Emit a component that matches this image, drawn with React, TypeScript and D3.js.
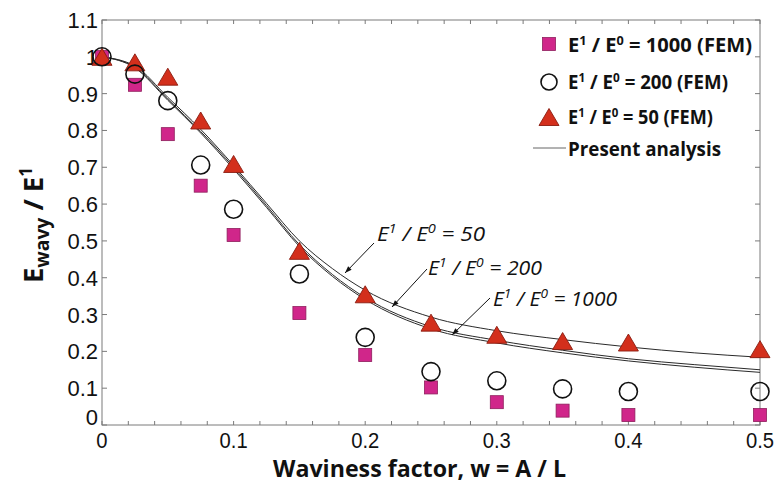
import React from 'react'
import * as d3 from 'd3'

// FEM results (markers)
const wFEM = [0, 0.025, 0.05, 0.075, 0.1, 0.15, 0.2, 0.25, 0.3, 0.35, 0.4, 0.5]
const fem1000 = [1.0, 0.924, 0.79, 0.65, 0.516, 0.304, 0.19, 0.102, 0.062, 0.039, 0.027, 0.027]
const fem200 = [1.0, 0.953, 0.881, 0.706, 0.586, 0.41, 0.238, 0.145, 0.12, 0.098, 0.091, 0.091]
const fem50 = [1.0, 0.985, 0.946, 0.827, 0.709, 0.473, 0.355, 0.278, 0.245, 0.228, 0.224, 0.206]

// present analysis (lines)
const wCurve = [0, 0.025, 0.05, 0.075, 0.1, 0.125, 0.15, 0.175, 0.2, 0.25, 0.3, 0.35, 0.4, 0.45, 0.5]
const curve50 = [1.0, 0.975, 0.89, 0.803, 0.705, 0.602, 0.5, 0.425, 0.366, 0.293, 0.256, 0.232, 0.212, 0.196, 0.184]
const curve200 = [1.0, 0.972, 0.885, 0.797, 0.7, 0.596, 0.49, 0.409, 0.346, 0.267, 0.23, 0.203, 0.18, 0.164, 0.15]
const curve1000 = [1.0, 0.97, 0.882, 0.793, 0.695, 0.591, 0.485, 0.404, 0.341, 0.261, 0.223, 0.196, 0.174, 0.157, 0.143]

const xTickLabels = [0, 0.1, 0.2, 0.3, 0.4, 0.5]
const yTickLabels = [0, 0.1, 0.2, 0.3, 0.4, 0.5, 0.6, 0.7, 0.8, 0.9, 1, 1.1]

const legendRatios = ['1000', '200', '50']

const annotations = [
  { ratio: '50', text: [377, 241], from: [374, 243], to: [345, 273], len: 108 },
  { ratio: '200', text: [428, 275], from: [427, 269], to: [392, 307], len: 114 },
  { ratio: '1000', text: [493, 306], from: [490, 298], to: [452, 335], len: 124 },
]

const W = 777
const H = 483
const margin = { top: 20, right: 17, bottom: 58, left: 102 }

const SQ_FILL = '#d0268a'
const SQ_STROKE = '#8e1f5c'
const TRI_FILL = '#d32f1c'
const TRI_STROKE = '#8a1c10'
const AXIS = '#7a7a7a'
const LABEL_FONT = '"Liberation Sans", Arial, sans-serif'
const TITLE_FONT = '"Open Sans", "Noto Sans", sans-serif'

function triPath(cx: number, cy: number, s = 10) {
  const h = s * 1.7
  return `M${cx},${cy - h / 2}L${cx + s},${cy + h / 2}L${cx - s},${cy + h / 2}Z`
}

export default function App() {
  const x = d3.scaleLinear().domain([0, 0.5]).range([margin.left, W - margin.right])
  const y = d3.scaleLinear().domain([0, 1.1]).range([H - margin.bottom, margin.top])

  const line = d3.line<number>()
    .x((_, i) => x(wCurve[i]))
    .y(d => y(d))
    .curve(d3.curveMonotoneX)

  const minorX = d3.range(0, 0.5001, 0.02)
  const yTicks = d3.range(0, 1.1001, 0.1)
  const [x0, x1] = x.range()
  const [yb, yt] = y.range()

  const legendBase = [52, 89, 124]
  const legendLen = [184, 160, 145]

  return (
    <>
      <style>{`body { margin: 0; background: #fff; }`}</style>
      <svg width={W} height={H} style={{ display: 'block' }}>
        <defs>
          <marker id="arrow" viewBox="0 0 10 10" refX="10" refY="5" markerWidth="9" markerHeight="7"
            orient="auto" markerUnits="userSpaceOnUse">
            <path d="M0,1.5L10,5L0,8.5Z" fill="#111" />
          </marker>
        </defs>

        {/* frame */}
        <rect x={x0} y={yt} width={x1 - x0} height={yb - yt} fill="none" stroke={AXIS} strokeWidth={1} />

        {/* ticks, inward on all four sides */}
        {minorX.map((t, i) => (
          <g key={'xt' + i} stroke={AXIS} strokeWidth={1}>
            <line x1={x(t)} x2={x(t)} y1={yb} y2={yb - 4} />
            <line x1={x(t)} x2={x(t)} y1={yt} y2={yt + 4} />
          </g>
        ))}
        {yTicks.map((t, i) => (
          <g key={'yt' + i} stroke={AXIS} strokeWidth={1}>
            <line x1={x0} x2={x0 + 5} y1={y(t)} y2={y(t)} />
            <line x1={x1} x2={x1 - 5} y1={y(t)} y2={y(t)} />
          </g>
        ))}

        {/* tick labels */}
        {xTickLabels.map(t => (
          <text key={'xl' + t} x={x(t)} y={yb + 23} textAnchor="middle" fontFamily={LABEL_FONT}
            fontSize={22} fill="#111" transform={`translate(${x(t)},0) scale(0.92,1) translate(${-x(t)},0)`}>
            {String(t)}
          </text>
        ))}
        {yTickLabels.map(t => (
          <text key={'yl' + t} x={x0 - 4} y={y(t) + (t === 0 ? 0 : 8)} textAnchor="end" fontFamily={LABEL_FONT}
            fontSize={22} fill="#111">
            {String(t)}
          </text>
        ))}

        {/* present analysis */}
        {[curve50, curve200, curve1000].map((c, i) => (
          <path key={'c' + i} d={line(c) || ''} fill="none" stroke="#2a2a2a" strokeWidth={1} />
        ))}

        {/* FEM markers */}
        {fem1000.map((v, i) => (
          <rect key={'s' + i} x={x(wFEM[i]) - 6.5} y={y(v) - 6.5} width={13} height={13}
            fill={SQ_FILL} stroke={SQ_STROKE} strokeWidth={0.8} />
        ))}
        {fem50.map((v, i) => (
          <path key={'t' + i} d={triPath(x(wFEM[i]), y(v))} fill={TRI_FILL} stroke={TRI_STROKE} strokeWidth={0.9} />
        ))}
        {fem200.map((v, i) => (
          <circle key={'o' + i} cx={x(wFEM[i])} cy={y(v)} r={9} fill="none" stroke="#111" strokeWidth={1.6} />
        ))}

        {/* annotations */}
        {annotations.map(a => (
          <g key={a.ratio}>
            <line x1={a.from[0]} y1={a.from[1]} x2={a.to[0]} y2={a.to[1]} stroke="#111" strokeWidth={1}
              markerEnd="url(#arrow)" />
            <text x={a.text[0]} y={a.text[1]} fontFamily={TITLE_FONT} fontStyle="italic" fontSize={20}
              fill="#111" textLength={a.len} lengthAdjust="spacingAndGlyphs">
              E<tspan dy={-8} fontSize={13}>1</tspan><tspan dy={8}> / E</tspan>
              <tspan dy={-8} fontSize={13}>0</tspan><tspan dy={8}>{' = ' + a.ratio}</tspan>
            </text>
          </g>
        ))}

        {/* legend */}
        <rect x={549 - 6.5} y={44 - 6.5} width={13} height={13} fill={SQ_FILL} stroke={SQ_STROKE} strokeWidth={0.8} />
        <circle cx={549} cy={82} r={8} fill="none" stroke="#111" strokeWidth={1.6} />
        <path d={triPath(549, 117)} fill={TRI_FILL} stroke={TRI_STROKE} strokeWidth={0.9} />
        <line x1={533} x2={566} y1={148} y2={148} stroke="#666" strokeWidth={1} />
        {legendRatios.map((r, i) => (
          <text key={'lg' + r} x={568} y={legendBase[i]} fontFamily={TITLE_FONT} fontWeight="bold" fontSize={19}
            fill="#111" textLength={legendLen[i]} lengthAdjust="spacingAndGlyphs">
            E<tspan dy={-7} fontSize={12}>1</tspan><tspan dy={7}> / E</tspan>
            <tspan dy={-7} fontSize={12}>0</tspan><tspan dy={7}>{' = ' + r + ' (FEM)'}</tspan>
          </text>
        ))}
        <text x={568} y={156} fontFamily={TITLE_FONT} fontWeight="bold" fontSize={20} fill="#111"
          textLength={153} lengthAdjust="spacingAndGlyphs">Present analysis</text>

        {/* axis titles */}
        <text x={273} y={477} fontFamily={TITLE_FONT} fontWeight="bold" fontSize={23} fill="#111"
          textLength={293} lengthAdjust="spacingAndGlyphs">Waviness factor, w = A / L</text>
        <text transform="translate(43,283) rotate(-90)" fontFamily={TITLE_FONT} fontWeight="bold" fontSize={27}
          fill="#111" textLength={116} lengthAdjust="spacingAndGlyphs">
          E<tspan dy={6} fontSize={19}>wavy</tspan><tspan dy={-6}> / E</tspan>
          <tspan dy={-11} fontSize={17}>1</tspan>
        </text>
      </svg>
    </>
  )
}
